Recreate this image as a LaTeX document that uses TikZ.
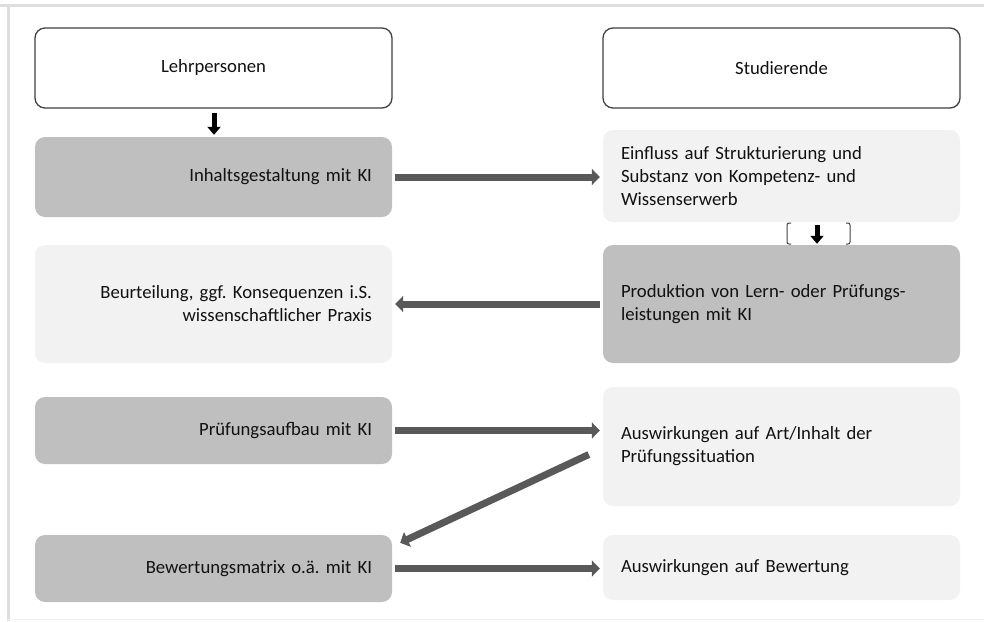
\documentclass[tikz,border=0pt]{standalone}
\usepackage{fontspec}
\setmainfont{Carlito}
\frenchspacing
\usetikzlibrary{arrows.meta,calc}
\definecolor{darkbox}{HTML}{BFBFBF}
\definecolor{lightbox}{HTML}{F2F2F2}
\definecolor{arrowgray}{HTML}{595959}
\definecolor{outline}{HTML}{404040}
\definecolor{framegray}{HTML}{DEDEDE}
\definecolor{txt}{HTML}{111111}
\tikzset{
  base/.style={rectangle, rounded corners=10pt, minimum width=357pt, text=txt,
    font=\fontsize{18.7}{23}\selectfont, inner ysep=0pt},
  headbox/.style={base, draw=outline, line width=1.3pt, fill=white, minimum height=80pt, align=center},
  darkR/.style={base, fill=darkbox, text width=317pt, inner xsep=20pt, align=right},
  lightR/.style={base, fill=lightbox, text width=317pt, inner xsep=20pt, align=right},
  darkL/.style={base, fill=darkbox, text width=321pt, inner xsep=18pt, align=left},
  lightL/.style={base, fill=lightbox, text width=321pt, inner xsep=18pt, align=left},
  grayarrow/.style={draw=arrowgray, line width=7pt, -{Triangle[length=8pt,width=16pt]}, arrowgray},
  blackarrow/.style={draw=black, line width=5pt, -{Triangle[length=8pt,width=13pt]}, black},
}
\begin{document}
\begin{tikzpicture}[x=1pt,y=-1pt]
\useasboundingbox (0,0) rectangle (984,621);
% frame
\draw[framegray, line width=3pt] (0,5) -- (984,5);
\draw[framegray, line width=3pt] (8,4) -- (8,621);
\draw[lightbox, line width=1pt] (8,619.5) -- (984,619.5);

% nodes
\node[headbox] (lehr) at (213.5,68) {Lehrpersonen};
\node[headbox] (stud) at (781.5,68) {Studierende};
\node[darkR, minimum height=80pt] (inh) at (213.5,177) {Inhaltsgestaltung mit KI};
\node[lightL, minimum height=92pt] (ein) at (781.5,176) {Einfluss auf Strukturierung und\\Substanz von Kompetenz- und\\Wissenserwerb};
\node[darkL, minimum height=118pt] (prod) at (781.5,304) {Produktion von Lern- oder Prüfungs-\\leistungen mit KI};
\node[lightR, minimum height=118pt] (beur) at (213.5,304) {Beurteilung, ggf. Konsequenzen i.S.\\wissenschaftlicher Praxis};
\node[darkR, minimum height=67pt] (pruef) at (213.5,430.5) {Prüfungsaufbau mit KI};
\node[lightL, minimum height=119pt] (art) at (781.5,446.5) {Auswirkungen auf Art/Inhalt der\\Prüfungssituation};
\node[darkR, minimum height=67pt] (bew) at (213.5,568.5) {Bewertungsmatrix o.ä. mit KI};
\node[lightL, minimum height=65pt] (bewa) at (781.5,567.5) {Auswirkungen auf Bewertung};

% bracket outline between Einfluss and Produktion
\coordinate (brL) at (787,223);
\coordinate (brR) at (850,223);
\draw[outline, line width=1pt, rounded corners=2pt] ($(brL)+(4,0)$) -- (brL) -- ($(brL)+(0,21)$) -- ($(brL)+(4,21)$);
\draw[outline, line width=1pt, rounded corners=2pt] ($(brR)+(-4,0)$) -- (brR) -- ($(brR)+(0,21)$) -- ($(brR)+(-4,21)$);

% black arrows
\draw[blackarrow] ($(lehr.south)+(0.5,4)$) -- ($(inh.north)+(0.5,-2)$);
\draw[blackarrow] ($(ein.south)+(35.5,3)$) -- ($(prod.north)+(35.5,-1)$);

% gray arrows
\draw[grayarrow, shorten <=3pt, shorten >=3pt] (inh.east) -- (inh.east -| ein.west);
\draw[grayarrow, shorten <=3pt, shorten >=3pt] (prod.west) -- (prod.west -| beur.east);
\draw[grayarrow, shorten <=3pt, shorten >=3pt] (pruef.east) -- (pruef.east -| art.west);
\draw[grayarrow, shorten <=3pt, shorten >=3pt] (bew.east) -- (bew.east -| bewa.west);
\coordinate (dstart) at ($(art.west)+(-14,8)$);
\draw[grayarrow] (dstart) -- ($(bew.north east)+(8,8)$);
\end{tikzpicture}
\end{document}
